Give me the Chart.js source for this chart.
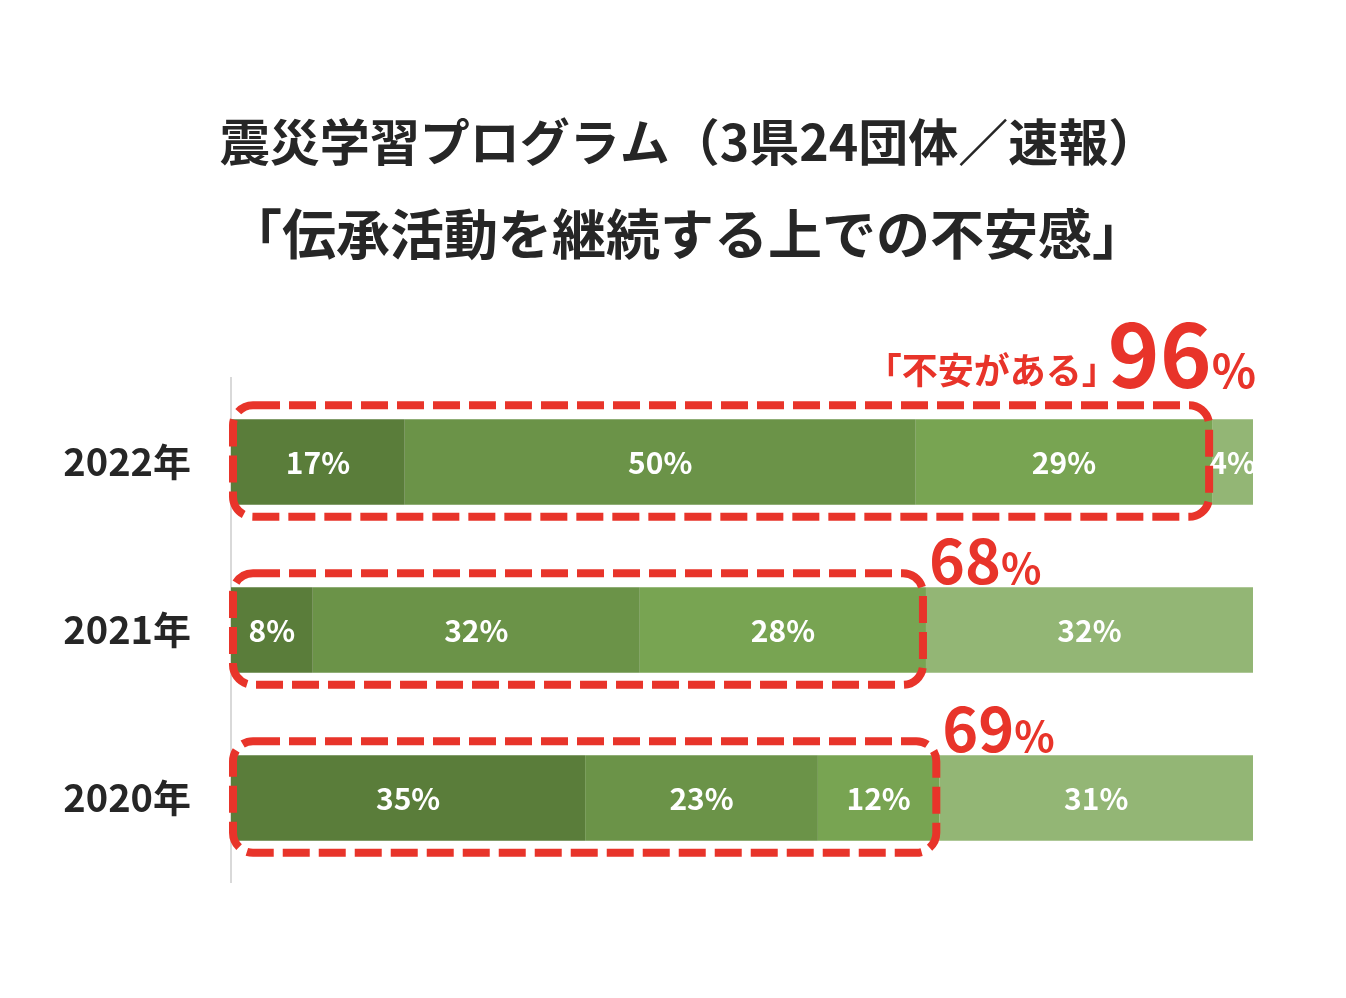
<!DOCTYPE html>
<html lang="ja">
<head>
<meta charset="utf-8">
<title>震災学習プログラム</title>
<script src="https://cdn.jsdelivr.net/npm/chart.js@4/dist/chart.umd.min.js"></script>
<style>
  html, body { margin: 0; padding: 0; background: #fff; }
  canvas { display: block; }
</style>
</head>
<body>
<canvas id="chart" width="1346" height="998"></canvas>
<script>
// DATA

const years = ["2022年", "2021年", "2020年"];

// four answer groups, darkest first (percent shown on the bars)
const group1 = [17, 8, 35];
const group2 = [50, 32, 23];
const group3 = [29, 28, 12];
const group4 = [4, 32, 31];

// "不安がある" totals written beside each box
const worryTotals = [96, 68, 69];

const titleLines = ["震災学習プログラム（3県24団体／速報）", "「伝承活動を継続する上での不安感」"];

const barColors = ["#5a7d3a", "#6b9348", "#78a452", "#93b675"];
const red = "#e8342a";
const font = "'Noto Sans CJK JP', 'Noto Sans', sans-serif";

// rows are drawn as 100% stacks
const groups = [group1, group2, group3, group4];
const rowSums = years.map((_, i) => groups.reduce((s, g) => s + g[i], 0));

const datasets = groups.map((g, k) => ({
  label: "group" + (k + 1),
  data: g.map((v, i) => v / rowSums[i] * 100),
  raw: g,
  backgroundColor: barColors[k],
  borderWidth: 0,
  barPercentage: 0.51,
  categoryPercentage: 1
}));

// DRAWING HELPERS

function roundRect(ctx, x, y, w, h, r) {
  ctx.beginPath();
  ctx.moveTo(x + r, y);
  ctx.lineTo(x + w - r, y);
  ctx.arcTo(x + w, y, x + w, y + r, r);
  ctx.lineTo(x + w, y + h - r);
  ctx.arcTo(x + w, y + h, x + w - r, y + h, r);
  ctx.lineTo(x + r, y + h);
  ctx.arcTo(x, y + h, x, y + h - r, r);
  ctx.lineTo(x, y + r);
  ctx.arcTo(x, y, x + r, y, r);
  ctx.closePath();
}

// two title lines (second one a bit larger)
const titles = {
  id: "titles",
  afterDraw(chart) {
    const ctx = chart.ctx;
    ctx.save();
    ctx.fillStyle = "#262626";
    ctx.textAlign = "center";
    ctx.textBaseline = "middle";
    ctx.font = "bold 50px " + font;
    ctx.fillText(titleLines[0], 689, 142);
    ctx.font = "bold 54px " + font;
    ctx.fillText(titleLines[1], 687, 234);
    ctx.restore();
  }
};

// labels on bars + red dashed boxes + totals
const overlay = {
  id: "overlay",
  afterDatasetsDraw(chart) {
    const ctx = chart.ctx;
    const xs = chart.scales.x;

    // percent labels
    ctx.save();
    ctx.fillStyle = "#ffffff";
    ctx.font = "bold 30px " + font;
    ctx.textAlign = "center";
    ctx.textBaseline = "middle";
    chart.data.datasets.forEach((ds, k) => {
      chart.getDatasetMeta(k).data.forEach((bar, i) => {
        const cx = (bar.x + bar.base) / 2;
        ctx.fillText(ds.raw[i] + "%", cx, bar.y + 1);
      });
    });
    ctx.restore();

    // dashed boxes round the first three groups
    const last = chart.getDatasetMeta(2).data;
    last.forEach((bar, i) => {
      const top = bar.y - bar.height / 2;
      const bottom = bar.y + bar.height / 2;
      const left = xs.getPixelForValue(0) + 2;
      const right = bar.x - 3;
      ctx.save();
      ctx.strokeStyle = red;
      ctx.lineWidth = 8;
      ctx.setLineDash([27, 9]);
      roundRect(ctx, left, top - 14, right - left, bottom - top + 26, 20);
      ctx.stroke();
      ctx.restore();

      // totals
      ctx.save();
      ctx.fillStyle = red;
      ctx.textBaseline = "alphabetic";
      if (i === 0) {
        const end = chart.chartArea.right + 3;
        const base = top - 31;
        ctx.textAlign = "right";
        ctx.font = "bold 46px " + font;
        ctx.fillText("%", end, base);
        const pw = ctx.measureText("%").width;
        ctx.font = "bold 88px " + font;
        ctx.fillText(String(worryTotals[i]), end - pw, base);
        const nw = ctx.measureText(String(worryTotals[i])).width;
        ctx.font = "bold 36px " + font;
        ctx.fillText("「不安がある」", end - pw - nw + 10, base - 4);
      } else {
        const start = right + 6;
        const base = top - 3;
        ctx.textAlign = "left";
        ctx.font = "bold 61px " + font;
        ctx.fillText(String(worryTotals[i]), start, base);
        const nw = ctx.measureText(String(worryTotals[i])).width;
        ctx.font = "bold 42px " + font;
        ctx.fillText("%", start + nw, base);
      }
      ctx.restore();
    });
  }
};

// CHART

new Chart(document.getElementById("chart"), {
  type: "bar",
  data: { labels: years, datasets: datasets },
  plugins: [overlay, titles],
  options: {
    indexAxis: "y",
    responsive: false,
    animation: false,
    layout: { padding: { left: 0, right: 93, top: 378, bottom: 116 } },
    plugins: {
      legend: { display: false },
      tooltip: { enabled: false },
      title: { display: false }
    },
    scales: {
      x: {
        stacked: true,
        min: 0,
        max: 100,
        display: false
      },
      y: {
        stacked: true,
        grid: { display: false, drawTicks: false },
        border: { display: true, color: "#d9d9d9", width: 2 },
        ticks: {
          color: "#262626",
          padding: 40,
          font: { family: font, size: 38, weight: "bold" }
        },
        afterFit(scale) {
          scale.width = 231;
        }
      }
    }
  }
});
</script>
</body>
</html>
